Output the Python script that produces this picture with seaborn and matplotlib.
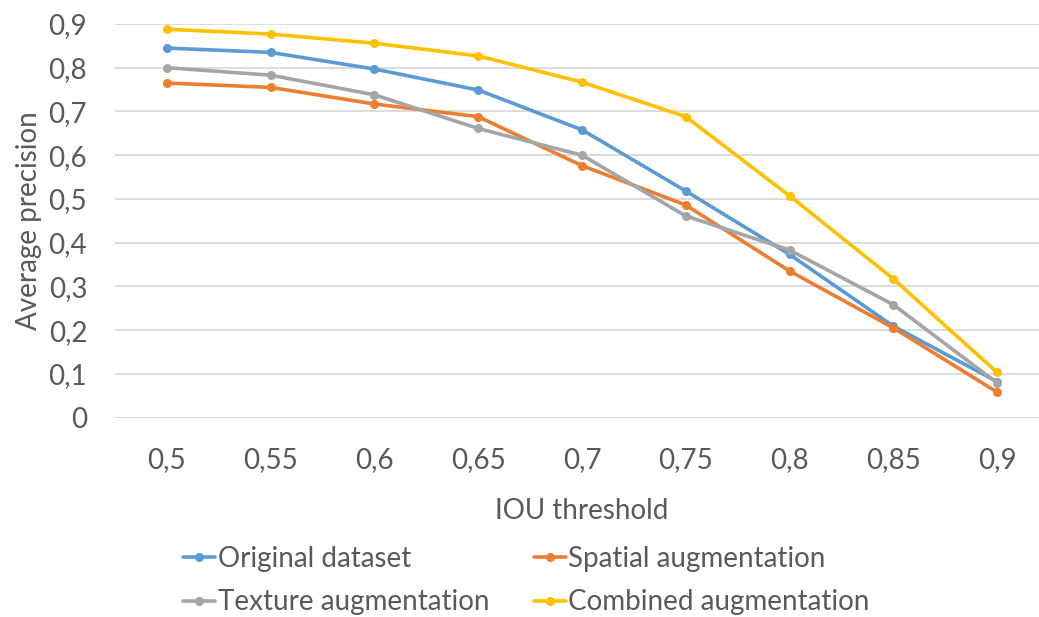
import numpy as np
import pandas as pd
import matplotlib
matplotlib.use("Agg")
import matplotlib.pyplot as plt
import seaborn as sns

# ─── Data ─────────────────────────────────────────────────
thresholds = ["0,5", "0,55", "0,6", "0,65", "0,7", "0,75", "0,8", "0,85", "0,9"]
original = [0.845, 0.835, 0.797, 0.749, 0.658, 0.518, 0.373, 0.209, 0.082]
spatial  = [0.765, 0.755, 0.717, 0.688, 0.576, 0.486, 0.335, 0.205, 0.058]
texture  = [0.800, 0.783, 0.738, 0.661, 0.600, 0.461, 0.383, 0.258, 0.079]
combined = [0.888, 0.877, 0.856, 0.827, 0.767, 0.688, 0.507, 0.317, 0.103]

series_names = ["Original dataset", "Spatial augmentation",
                "Texture augmentation", "Combined augmentation"]
series_vals = [original, spatial, texture, combined]
colors = ["#5B9BD5", "#ED7D31", "#A5A5A5", "#FFC000"]

# ─── Style ────────────────────────────────────────────────
TEXT = "#595959"
GRID = "#D9D9D9"
FS = 20
sns.set_theme(style="white")
plt.rcParams["font.family"] = ["Lato", "DejaVu Sans"]
plt.rcParams["text.color"] = TEXT

df = pd.DataFrame({
    "pos": np.tile(np.arange(len(thresholds)), len(series_names)),
    "ap": np.concatenate(series_vals),
    "series": np.repeat(series_names, len(thresholds)),
})

fig = plt.figure(figsize=(10.39, 6.17), dpi=100)
ax = fig.add_axes([115 / 1039, 1 - 417.5 / 617, 934 / 1039, 393.5 / 617])

sns.lineplot(data=df, x="pos", y="ap", hue="series", hue_order=series_names,
             palette=colors, marker="o", markersize=6.5, markeredgewidth=0,
             linewidth=2.6, sort=False, ax=ax)

ax.set_xlim(-0.5, len(thresholds) - 0.5)
ax.set_ylim(0, 0.9)
ax.set_yticks(np.arange(0, 0.91, 0.1))
ax.set_yticklabels(["0"] + [f"0,{i}" for i in range(1, 10)])
ax.set_xticks(np.arange(len(thresholds)))
ax.set_xticklabels(thresholds)
ax.tick_params(axis="both", length=0, labelsize=FS, colors=TEXT)
ax.tick_params(axis="y", pad=20)
ax.tick_params(axis="x", pad=21)
ax.grid(axis="y", color=GRID, linewidth=1.3)
ax.set_axisbelow(True)
for s in ax.spines.values():
    s.set_visible(False)

ax.set_xlabel("IOU threshold", fontsize=FS, color=TEXT, labelpad=18)
ax.set_ylabel("Average precision", fontsize=FS, color=TEXT, labelpad=5)

handles, labels = ax.get_legend_handles_labels()
order = [0, 2, 1, 3]
ax.legend([handles[i] for i in order], [labels[i] for i in order],
          ncol=2, loc="upper left", bbox_to_anchor=(183 / 1039, 1 - 546 / 617),
          bbox_transform=fig.transFigure, frameon=False, fontsize=FS,
          handlelength=1.15, handletextpad=0.1, columnspacing=1.6,
          labelspacing=0.62, borderaxespad=0, borderpad=0, labelcolor=TEXT)

plt.savefig("out.png", dpi=100)
plt.close()
